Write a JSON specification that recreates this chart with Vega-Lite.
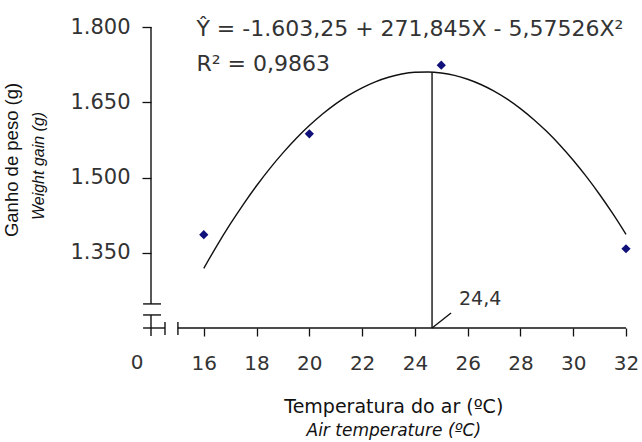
{
  "$schema": "https://vega.github.io/schema/vega-lite/v6.json",
  "width": 475,
  "height": 301,
  "autosize": {"type": "none"},
  "padding": {"left": 151, "top": 27, "right": 16, "bottom": 114},
  "background": "white",
  "config": {"view": {"stroke": null}, "axis": {"grid": false, "domain": false}},
  "datasets": {
    "obs": [
      {"temp": 16, "gain": 1386},
      {"temp": 20, "gain": 1587},
      {"temp": 25, "gain": 1724},
      {"temp": 32, "gain": 1358}
    ],
    "fit": [
      {"temp": 16, "gain": 1319.0}, {"temp": 16.5, "gain": 1364.3}, {"temp": 17, "gain": 1406.9},
      {"temp": 17.5, "gain": 1446.6}, {"temp": 18, "gain": 1483.6}, {"temp": 18.5, "gain": 1517.8},
      {"temp": 19, "gain": 1549.1}, {"temp": 19.5, "gain": 1577.7}, {"temp": 20, "gain": 1603.5},
      {"temp": 20.5, "gain": 1626.6}, {"temp": 21, "gain": 1646.8}, {"temp": 21.5, "gain": 1664.3},
      {"temp": 22, "gain": 1678.9}, {"temp": 22.5, "gain": 1690.8}, {"temp": 23, "gain": 1699.9},
      {"temp": 23.5, "gain": 1706.2}, {"temp": 24, "gain": 1709.7}, {"temp": 24.5, "gain": 1710.4},
      {"temp": 25, "gain": 1708.3}, {"temp": 25.5, "gain": 1703.5}, {"temp": 26, "gain": 1695.8},
      {"temp": 26.5, "gain": 1685.4}, {"temp": 27, "gain": 1672.2}, {"temp": 27.5, "gain": 1656.2},
      {"temp": 28, "gain": 1637.4}, {"temp": 28.5, "gain": 1615.8}, {"temp": 29, "gain": 1591.5},
      {"temp": 29.5, "gain": 1564.3}, {"temp": 30, "gain": 1534.4}, {"temp": 30.5, "gain": 1501.6},
      {"temp": 31, "gain": 1466.1}, {"temp": 31.5, "gain": 1427.8}, {"temp": 32, "gain": 1386.7}
    ],
    "segs": [
      {"x": 14, "x2": 14, "y": 1248, "y2": 1800},
      {"x": 13.7, "x2": 14.38, "y": 1248, "y2": 1248},
      {"x": 13.7, "x2": 14.38, "y": 1226, "y2": 1226},
      {"x": 14, "x2": 14, "y": 1184, "y2": 1226},
      {"x": 13.7, "x2": 14.53, "y": 1200, "y2": 1200},
      {"x": 14.53, "x2": 14.53, "y": 1186, "y2": 1212},
      {"x": 15.02, "x2": 15.02, "y": 1186, "y2": 1212},
      {"x": 15.02, "x2": 32, "y": 1200, "y2": 1200},
      {"x": 24.65, "x2": 24.65, "y": 1200, "y2": 1710},
      {"x": 24.65, "x2": 25.37, "y": 1200, "y2": 1230}
    ]
  },
  "layer": [
    {
      "data": {"name": "segs"},
      "mark": {"type": "rule", "color": "#111", "strokeWidth": 1.4},
      "encoding": {
        "x": {
          "field": "x", "type": "quantitative", "title": null,
          "scale": {"domain": [14, 32], "nice": false, "zero": false},
          "axis": {
            "values": [16, 18, 20, 22, 24, 26, 28, 30, 32],
            "tickSize": 8, "tickColor": "#111", "tickWidth": 1.3,
            "labelFont": "DejaVu Sans", "labelFontSize": 20, "labelColor": "#333",
            "labelPadding": 17, "labelFlush": false, "labelOverlap": false
          }
        },
        "x2": {"field": "x2"},
        "y": {
          "field": "y", "type": "quantitative", "title": null,
          "scale": {"domain": [1200, 1800], "nice": false, "zero": false},
          "axis": {
            "values": [1350, 1500, 1650, 1800],
            "labelExpr": "replace(format(datum.value, ','), ',', '.')",
            "tickSize": 9, "tickColor": "#111", "tickWidth": 1.3,
            "labelFont": "DejaVu Sans", "labelFontSize": 21, "labelColor": "#333",
            "labelPadding": 12, "labelFlush": false, "labelOverlap": false
          }
        },
        "y2": {"field": "y2"}
      }
    },
    {
      "data": {"name": "fit"},
      "mark": {"type": "line", "color": "#111", "strokeWidth": 1.4, "interpolate": "monotone"},
      "encoding": {
        "x": {"field": "temp", "type": "quantitative", "title": null},
        "y": {"field": "gain", "type": "quantitative", "title": null}
      }
    },
    {
      "data": {"name": "obs"},
      "mark": {"type": "point", "shape": "diamond", "filled": true, "size": 85, "color": "#10107a", "opacity": 1},
      "encoding": {
        "x": {"field": "temp", "type": "quantitative", "title": null},
        "y": {"field": "gain", "type": "quantitative", "title": null}
      }
    },
    {
      "data": {"values": [{}]},
      "mark": {"type": "text", "text": "Ŷ = -1.603,25 + 271,845X - 5,57526X²", "align": "left", "baseline": "middle", "font": "DejaVu Sans", "fontSize": 22, "color": "#333"},
      "encoding": {"x": {"datum": 15.72, "type": "quantitative"}, "y": {"datum": 1796, "type": "quantitative"}}
    },
    {
      "data": {"values": [{}]},
      "mark": {"type": "text", "text": "R² = 0,9863", "align": "left", "baseline": "middle", "font": "DejaVu Sans", "fontSize": 22, "color": "#333"},
      "encoding": {"x": {"datum": 15.72, "type": "quantitative"}, "y": {"datum": 1726, "type": "quantitative"}}
    },
    {
      "data": {"values": [{}]},
      "mark": {"type": "text", "text": "24,4", "align": "left", "baseline": "middle", "font": "DejaVu Sans", "fontSize": 19, "color": "#333"},
      "encoding": {"x": {"datum": 25.67, "type": "quantitative"}, "y": {"datum": 1257, "type": "quantitative"}}
    },
    {
      "data": {"values": [{}]},
      "mark": {"type": "text", "text": "0", "align": "center", "baseline": "top", "dy": 25, "font": "DejaVu Sans", "fontSize": 20, "color": "#333"},
      "encoding": {"x": {"datum": 13.47, "type": "quantitative"}, "y": {"datum": 1200, "type": "quantitative"}}
    },
    {
      "data": {"values": [{}]},
      "mark": {"type": "text", "text": "Temperatura do ar (ºC)", "align": "center", "baseline": "middle", "font": "DejaVu Sans", "fontSize": 19, "color": "#111"},
      "encoding": {"x": {"datum": 23.2, "type": "quantitative"}, "y": {"datum": 1042, "type": "quantitative"}}
    },
    {
      "data": {"values": [{}]},
      "mark": {"type": "text", "text": "Air temperature (ºC)", "align": "center", "baseline": "middle", "font": "DejaVu Sans", "fontStyle": "italic", "fontSize": 17, "color": "#111"},
      "encoding": {"x": {"datum": 23.2, "type": "quantitative"}, "y": {"datum": 994.7, "type": "quantitative"}}
    },
    {
      "data": {"values": [{}]},
      "mark": {"type": "text", "text": "Ganho de peso (g)", "angle": 270, "align": "center", "baseline": "middle", "font": "Liberation Sans", "fontSize": 18.5, "color": "#111"},
      "encoding": {"x": {"datum": 8.73, "type": "quantitative"}, "y": {"datum": 1535, "type": "quantitative"}}
    },
    {
      "data": {"values": [{}]},
      "mark": {"type": "text", "text": "Weight gain (g)", "angle": 270, "align": "center", "baseline": "middle", "font": "Liberation Sans", "fontStyle": "italic", "fontSize": 16, "color": "#111"},
      "encoding": {"x": {"datum": 9.75, "type": "quantitative"}, "y": {"datum": 1523, "type": "quantitative"}}
    }
  ]
}
